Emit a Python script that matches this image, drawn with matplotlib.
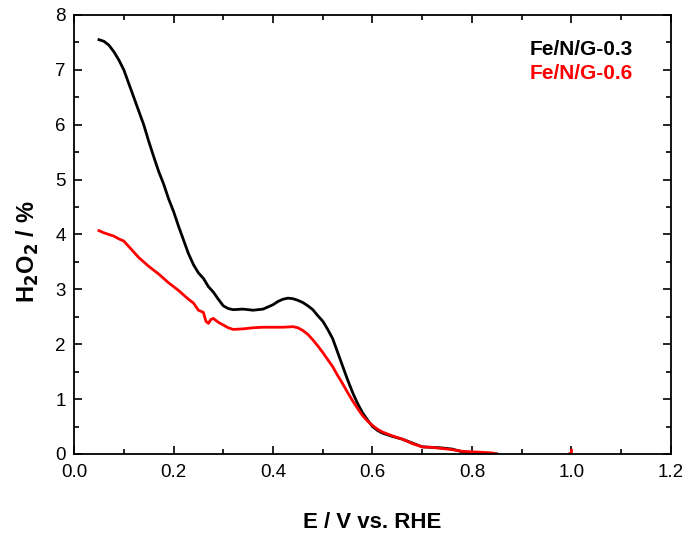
import matplotlib
matplotlib.use('Agg')
import matplotlib.pyplot as plt
from matplotlib.ticker import MultipleLocator

plt.rcParams['font.family'] = ['Liberation Sans', 'DejaVu Sans']

# Fe/N/G-0.3 (black)
x_03 = [0.05, 0.06, 0.07, 0.08, 0.09, 0.10, 0.11, 0.12, 0.13, 0.14, 0.15, 0.16, 0.17, 0.18,
        0.19, 0.20, 0.21, 0.22, 0.23, 0.24, 0.25, 0.26, 0.27, 0.28, 0.29, 0.30, 0.31, 0.32,
        0.34, 0.36, 0.38, 0.40, 0.41, 0.42, 0.43, 0.44, 0.45, 0.46, 0.47, 0.48, 0.49, 0.50,
        0.51, 0.52, 0.53, 0.54, 0.55, 0.56, 0.57, 0.58, 0.59, 0.60, 0.61, 0.62, 0.64, 0.66,
        0.68, 0.70, 0.72, 0.74, 0.76, 0.78, 0.80, 0.82, 0.85]
y_03 = [7.55, 7.52, 7.45, 7.33, 7.18, 7.00, 6.75, 6.50, 6.25, 6.00, 5.70, 5.42, 5.15, 4.92,
        4.65, 4.42, 4.15, 3.90, 3.65, 3.45, 3.30, 3.20, 3.05, 2.95, 2.82, 2.70, 2.65, 2.63,
        2.64, 2.62, 2.64, 2.72, 2.78, 2.82, 2.84, 2.83, 2.80, 2.76, 2.70, 2.63, 2.52, 2.42,
        2.27, 2.10, 1.85, 1.60, 1.35, 1.12, 0.92, 0.75, 0.62, 0.50, 0.43, 0.38, 0.32, 0.27,
        0.20, 0.13, 0.12, 0.11, 0.09, 0.04, 0.02, 0.01, 0.00]

# Fe/N/G-0.6 (red)
x_06 = [0.05, 0.06, 0.07, 0.08, 0.09, 0.10, 0.11, 0.12, 0.13, 0.14, 0.15, 0.16, 0.17, 0.18,
        0.19, 0.20, 0.21, 0.22, 0.23, 0.24, 0.25, 0.26, 0.265, 0.27, 0.275, 0.28, 0.29, 0.30,
        0.31, 0.32, 0.34, 0.36, 0.38, 0.40, 0.42, 0.44, 0.45, 0.46, 0.47, 0.48, 0.49, 0.50,
        0.51, 0.52, 0.53, 0.54, 0.55, 0.56, 0.57, 0.58, 0.59, 0.60, 0.61, 0.62, 0.64, 0.66,
        0.68, 0.70, 0.72, 0.74, 0.76, 0.78, 0.80, 0.82, 0.84, 0.85]
y_06 = [4.07, 4.03, 4.00, 3.97, 3.92, 3.88, 3.78, 3.68, 3.58, 3.50, 3.42, 3.35, 3.28, 3.20,
        3.12, 3.05, 2.98, 2.90, 2.82, 2.75, 2.62, 2.58, 2.42, 2.38, 2.45, 2.47, 2.40, 2.35,
        2.30, 2.27, 2.28, 2.30, 2.31, 2.31, 2.31, 2.32, 2.30, 2.25, 2.18, 2.08, 1.97, 1.85,
        1.72, 1.59, 1.43, 1.28, 1.12, 0.97, 0.83, 0.70, 0.60, 0.52, 0.45, 0.40, 0.33, 0.27,
        0.19, 0.13, 0.12, 0.10, 0.08, 0.05, 0.04, 0.03, 0.02, 0.00]

# small red blip at 1.0 V
x_blip = [0.995, 1.0, 1.0]
y_blip = [0.0, 0.02, 0.07]

fig = plt.figure(figsize=(6.86, 5.37), dpi=100)
ax = fig.add_axes([0.108, 0.1546, 0.870, 0.8175])

ax.plot(x_03, y_03, color='black', lw=2.0)
ax.plot(x_06, y_06, color='red', lw=2.0)
ax.plot(x_blip, y_blip, color='red', lw=2.0)

ax.set_xlim(0, 1.2)
ax.set_ylim(0, 8)
ax.xaxis.set_major_locator(MultipleLocator(0.2))
ax.xaxis.set_minor_locator(MultipleLocator(0.1))
ax.yaxis.set_major_locator(MultipleLocator(1))
ax.yaxis.set_minor_locator(MultipleLocator(0.5))
ax.xaxis.set_major_formatter(plt.FormatStrFormatter('%.1f'))
ax.tick_params(which='both', direction='in', top=True, right=True, labelsize=13.5, width=1.2)
ax.tick_params(which='major', length=6)
ax.tick_params(which='minor', length=3.5)
ax.tick_params(axis='x', pad=7)
ax.tick_params(axis='y', pad=6)
for s in ax.spines.values():
    s.set_linewidth(1.3)

ax.set_xlabel('E / V vs. RHE', fontsize=16, fontweight='bold', va='center')
ax.set_ylabel('H$_\\mathbf{2}$O$_\\mathbf{2}$ / %', fontsize=17, fontweight='bold', va='center')
ax.xaxis.set_label_coords(0.5, -0.155)
ax.yaxis.set_label_coords(-0.077, 0.46)

ax.text(0.763, 0.922, 'Fe/N/G-0.3', transform=ax.transAxes, fontsize=15,
        fontweight='bold', color='black', va='center')
ax.text(0.763, 0.866, 'Fe/N/G-0.6', transform=ax.transAxes, fontsize=15,
        fontweight='bold', color='red', va='center')

fig.savefig('out.png', dpi=100)
